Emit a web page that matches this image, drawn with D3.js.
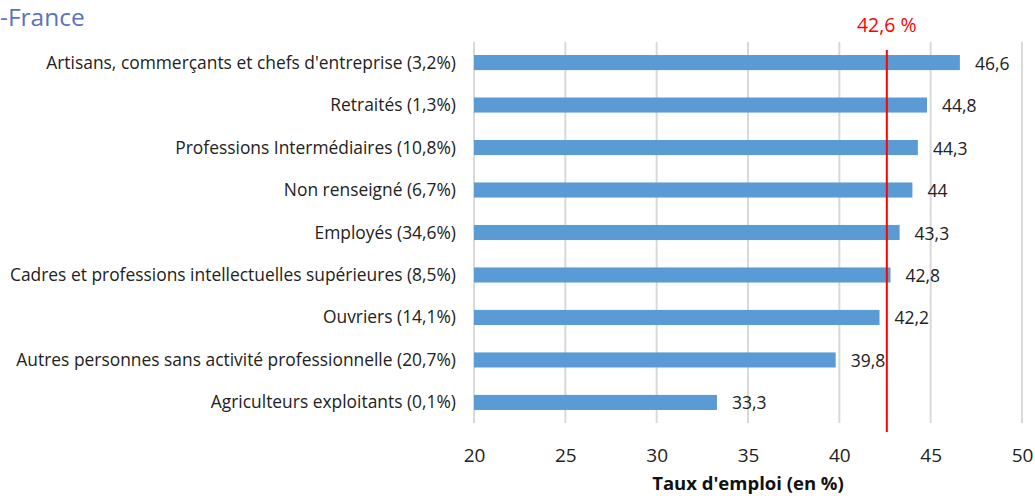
<!DOCTYPE html>
<html>
<head>
<meta charset="utf-8">
<script src="https://cdn.jsdelivr.net/npm/d3@7/dist/d3.min.js"></script>
<style>
  html, body { margin: 0; padding: 0; background: #fff; }
  svg { display: block; font-family: "Open Sans", "Noto Sans", sans-serif; }
</style>
</head>
<body>
<svg id="chart" width="1035" height="496"></svg>
<script>
// Employment rate by socio-professional category (share of population in brackets)
const categories = [
  "Artisans, commerçants et chefs d'entreprise (3,2%)",
  "Retraités (1,3%)",
  "Professions Intermédiaires (10,8%)",
  "Non renseigné (6,7%)",
  "Employés (34,6%)",
  "Cadres et professions intellectuelles supérieures (8,5%)",
  "Ouvriers (14,1%)",
  "Autres personnes sans activité professionnelle (20,7%)",
  "Agriculteurs exploitants (0,1%)"
];
const values = [46.6, 44.8, 44.3, 44, 43.3, 42.8, 42.2, 39.8, 33.3];
const valueLabels = ["46,6", "44,8", "44,3", "44", "43,3", "42,8", "42,2", "39,8", "33,3"];
const average = 42.6;
const averageLabel = "42,6 %";
const xTicks = [20, 25, 30, 35, 40, 45, 50];
const title = "-France";
const xTitle = "Taux d'emploi (en %)";

const svg = d3.select("#chart");

const x = d3.scaleLinear().domain([20, 50]).range([474, 1022]);
const y = d3.scaleBand().domain(categories).range([41, 424]).paddingInner(0.645).paddingOuter(0.33);

// vertical gridlines
svg.append("g")
  .selectAll("line")
  .data(xTicks)
  .join("line")
  .attr("x1", d => x(d)).attr("x2", d => x(d))
  .attr("y1", 42).attr("y2", 423)
  .attr("stroke", "#d9d9d9")
  .attr("stroke-width", 2);

// bars
svg.append("g")
  .selectAll("rect")
  .data(values)
  .join("rect")
  .attr("x", x(20))
  .attr("y", (d, i) => y(categories[i]))
  .attr("width", d => x(d) - x(20))
  .attr("height", y.bandwidth())
  .attr("fill", "#5b9bd5");

// value labels
svg.append("g")
  .selectAll("text")
  .data(values)
  .join("text")
  .attr("x", d => x(d) + 15)
  .attr("y", (d, i) => y(categories[i]) + y.bandwidth() / 2 + 7)
  .attr("font-size", 17.5)
  .attr("fill", "#222")
  .text((d, i) => valueLabels[i]);

// category labels
svg.append("g")
  .selectAll("text")
  .data(categories)
  .join("text")
  .attr("x", 456)
  .attr("y", d => y(d) + y.bandwidth() / 2 + 6)
  .attr("text-anchor", "end")
  .attr("font-size", 17.4)
  .attr("fill", "#222")
  .text(d => d);

// average line
svg.append("line")
  .attr("x1", x(average)).attr("x2", x(average))
  .attr("y1", 50).attr("y2", 432)
  .attr("stroke", "#ff0000")
  .attr("stroke-width", 2);

svg.append("text")
  .attr("x", x(average))
  .attr("y", 32)
  .attr("text-anchor", "middle")
  .attr("font-size", 19.5)
  .attr("fill", "#ff0000")
  .text(averageLabel);

// x axis tick labels
const xAxis = d3.axisBottom(x).tickValues(xTicks).tickSize(0).tickPadding(0).tickFormat(d3.format("d"));
const gx = svg.append("g").attr("transform", "translate(0,448)").call(xAxis);
gx.select(".domain").remove();
gx.selectAll("text")
  .attr("font-size", 19)
  .attr("font-family", "\"Open Sans\", \"Noto Sans\", sans-serif")
  .attr("fill", "#222");

// axis title
svg.append("text")
  .attr("x", 748)
  .attr("y", 490)
  .attr("text-anchor", "middle")
  .attr("font-size", 18.5)
  .attr("font-weight", "bold")
  .attr("fill", "#111")
  .text(xTitle);

// chart title
svg.append("text")
  .attr("x", 0)
  .attr("y", 26)
  .attr("font-size", 24.5)
  .attr("fill", "#5a72c2")
  .text(title);
</script>
</body>
</html>
